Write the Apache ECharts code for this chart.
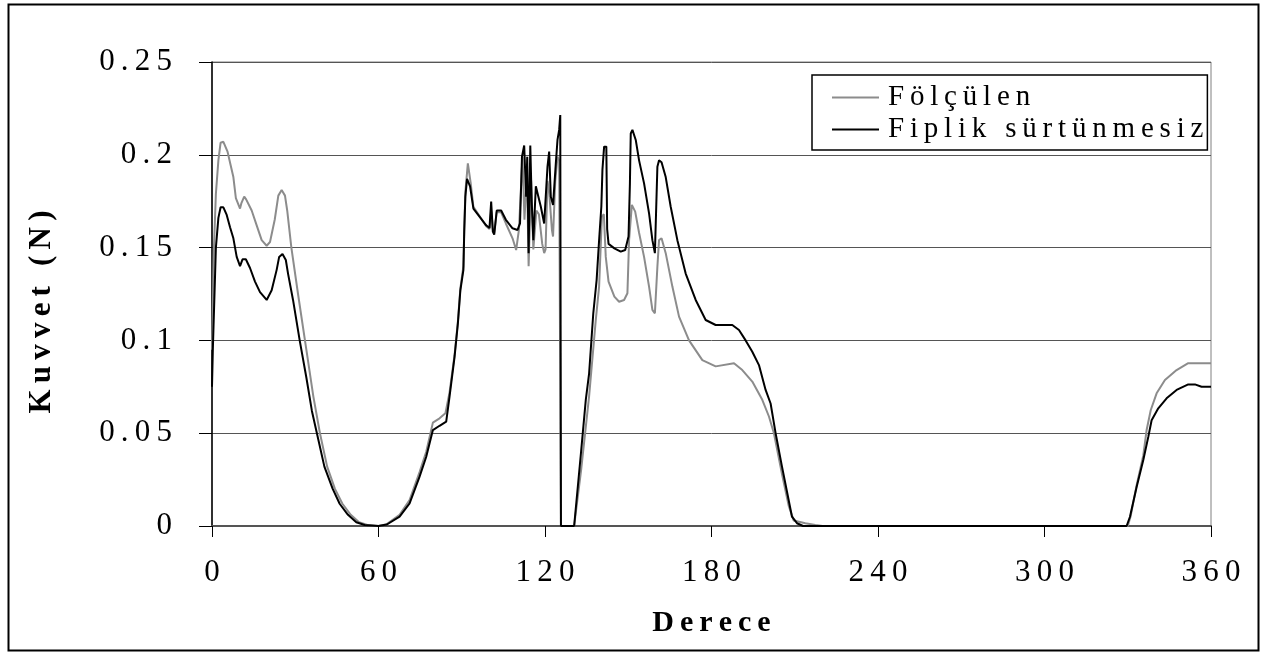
<!DOCTYPE html>
<html>
<head>
<meta charset="utf-8">
<script src="https://cdn.jsdelivr.net/npm/echarts@6/dist/echarts.min.js"></script>
<style>
html,body{margin:0;padding:0;background:#fff;}
#chart{width:1264px;height:653px;}
</style>
</head>
<body>
<div id="chart"></div>
<script>
// ---- data ----
const xTicks = [0, 60, 120, 180, 240, 300, 360];
const yTicks = [0, 0.05, 0.1, 0.15, 0.2, 0.25];
const seriesNames = ['Fölçülen', 'Fiplik sürtünmesiz'];

const olculenDeg = [0,0.7,1.4,2.3,3.1,4.1,5.6,6.7,7.7,8.6,10.1,10.6,11.6,12.3,14.3,16.1,17.9,19.7,20.9,22.6,23.9,25.1,26.3,27.1,28.6,31,34,36.5,38.9,41.5,44.3,47,50,53,56,60,63,67.6,71.2,74.8,77.2,79.6,82,84.1,85.6,87.4,88.6,89.5,90.6,90.9,91.3,92.2,92.7,93.2,94.2,96.4,98.8,100,100.6,101.2,101.7,102.6,104.2,105.9,108.3,109.6,110.6,111.9,112.6,113.5,114.1,115,115.8,116.9,117.8,119,119.7,120.2,120.9,121.5,122.5,122.9,123.7,124.5,125.1,125.7,125.75,130.5,133,135.9,138.3,139.5,140.5,141.2,141.9,142.9,145,146.7,148.5,149.7,150.3,151.3,152.5,153.9,155.7,157.5,158.7,159.6,160.5,161.1,162,163.5,165.9,168.3,171.9,176.7,181.5,188.1,191.1,194.7,198.3,200.7,202.5,205.4,207.8,209.6,213.8,217.4,220,330,331,333.2,335.6,336.8,338.3,340.4,343.4,347.6,351.8,360];
const olculenVal = [0.095,0.15,0.179,0.197,0.2065,0.207,0.2017,0.1945,0.188,0.1766,0.171,0.174,0.1775,0.176,0.170,0.162,0.154,0.151,0.153,0.165,0.178,0.181,0.178,0.170,0.150,0.125,0.095,0.07,0.05,0.032,0.02,0.012,0.006,0.002,0.0005,0,0.001,0.006,0.014,0.029,0.040,0.0557,0.058,0.0607,0.072,0.092,0.11,0.128,0.14,0.16,0.18,0.1954,0.195,0.185,0.172,0.167,0.1615,0.16,0.17,0.16,0.158,0.169,0.169,0.163,0.155,0.1487,0.1595,0.199,0.165,0.191,0.140,0.186,0.149,0.170,0.168,0.152,0.147,0.149,0.186,0.18,0.1595,0.156,0.186,0.199,0.197,0.198,0,0,0.03,0.07,0.111,0.129,0.1667,0.168,0.145,0.1317,0.1236,0.1208,0.1218,0.1254,0.154,0.173,0.1694,0.158,0.145,0.129,0.1164,0.1146,0.1397,0.154,0.155,0.147,0.129,0.1128,0.1,0.0894,0.086,0.0877,0.084,0.0778,0.068,0.059,0.05,0.028,0.011,0.003,0.0015,0.0005,0,0,0.005,0.022,0.038,0.0517,0.0625,0.0715,0.0787,0.084,0.0877,0.0877];

const iplikDeg = [0,0.3,1.4,2.3,3.1,4.1,5.3,6.5,7.7,8.9,10.1,11,12.2,13.7,15.5,17.3,19.7,21.5,23.3,24.2,25.4,26.6,27.4,29.2,31.6,34,36,37.8,40.5,43.5,46,49,52,55,60,63,67.6,71.2,74.8,77.2,79.6,82,84.4,85.6,87.4,88.6,89.5,90.6,90.9,91.3,91.9,92.4,93,94.2,96.4,98.8,100,100.6,101.2,101.7,102.6,104.2,105.9,108.3,110.1,111,111.7,112.5,113.2,113.6,114.1,114.7,115.2,115.8,116.7,117.2,118.5,119.7,120.1,120.9,121.5,122.1,122.9,123.9,124.5,125.1,125.5,125.7,125.75,130.5,133,134.7,135.9,137.4,138.6,139.5,140.3,140.7,141.3,142.1,142.4,142.9,145,147.3,148.9,150.1,150.6,150.9,151.5,152.7,153.9,155.7,157.5,158.7,159.6,160.5,161.1,162,163.5,165.3,167.7,170.7,174.3,177.9,181.5,187.5,189.9,192.3,194.7,197.1,199.5,201.3,203.1,205.4,207.8,209,210.8,213,329.6,330.8,333.2,335.6,337.4,338.6,341,344,347.6,351.8,354.2,356.6,360];
const iplikVal = [0.075,0.095,0.15,0.166,0.1717,0.1717,0.1676,0.161,0.155,0.145,0.14,0.1437,0.1437,0.139,0.1317,0.126,0.1218,0.127,0.138,0.145,0.1466,0.1433,0.136,0.1218,0.1,0.08,0.062,0.05,0.032,0.02,0.012,0.006,0.002,0.0005,0,0.0008,0.005,0.0122,0.0266,0.0373,0.0517,0.054,0.0562,0.0697,0.091,0.109,0.127,0.138,0.159,0.1774,0.187,0.188,0.183,0.171,0.1667,0.162,0.1606,0.1748,0.1586,0.157,0.17,0.17,0.165,0.1604,0.1595,0.163,0.199,0.205,0.1774,0.199,0.147,0.205,0.175,0.154,0.183,0.18,0.172,0.163,0.163,0.1936,0.2017,0.1774,0.173,0.1954,0.208,0.2134,0.2214,0.2214,0,0,0.04,0.068,0.0823,0.1146,0.1325,0.154,0.172,0.192,0.2044,0.2044,0.16,0.152,0.1496,0.1478,0.1487,0.156,0.1846,0.2115,0.2134,0.208,0.197,0.1846,0.1684,0.154,0.147,0.1936,0.197,0.196,0.188,0.172,0.154,0.136,0.1218,0.111,0.1083,0.1083,0.1056,0.1,0.0939,0.0867,0.0733,0.066,0.05,0.032,0.014,0.005,0.0015,0,0,0.005,0.021,0.0356,0.048,0.057,0.0634,0.0688,0.0733,0.0763,0.0763,0.075,0.075];

// ---- build ----
const SP = '\u2009';
const spaced = s => s.split('').join(SP);
const zip = (a, b) => a.map((d, i) => [d, b[i]]);
const FONT = '"Liberation Serif", "Times New Roman", serif';

const chart = echarts.init(document.getElementById('chart'), null, {renderer: 'canvas'});
chart.setOption({
  backgroundColor: '#ffffff',
  animation: false,
  grid: {left: 212, right: 53, top: 62, bottom: 127, show: true, borderColor: '#808080', borderWidth: 1},
  legend: {
    orient: 'vertical',
    left: 812, top: 75,
    padding: [8, 4, 6, 20],
    itemGap: 3,
    itemWidth: 47, itemHeight: 2,
    icon: 'rect',
    backgroundColor: '#ffffff',
    borderColor: '#000', borderWidth: 1.5,
    textStyle: {fontFamily: FONT, fontSize: 29, color: '#000', padding: [0, 0, 0, 4]},
    formatter: n => spaced(n),
    data: seriesNames
  },
  xAxis: {
    type: 'value', min: xTicks[0], max: xTicks[xTicks.length - 1], interval: 60,
    name: spaced('Derece'), nameLocation: 'middle', nameGap: 82,
    nameTextStyle: {fontFamily: FONT, fontSize: 30, fontWeight: 'bold', color: '#000'},
    axisLine: {lineStyle: {color: '#555', width: 2}},
    axisTick: {show: true, length: 11, lineStyle: {color: '#000', width: 1}},
    axisLabel: {margin: 31, fontFamily: FONT, fontSize: 31, color: '#000', formatter: v => spaced(String(v))},
    splitLine: {show: false}
  },
  yAxis: {
    type: 'value', min: yTicks[0], max: yTicks[yTicks.length - 1], interval: 0.05,
    name: spaced('Kuvvet (N)'), nameLocation: 'middle', nameGap: 155, nameRotate: 90,
    nameTextStyle: {fontFamily: FONT, fontSize: 31, fontWeight: 'bold', color: '#000', padding: [0, 36, 0, 0]},
    axisLine: {show: true, lineStyle: {color: '#000', width: 1.5}},
    axisTick: {show: true, length: 13, lineStyle: {color: '#000', width: 1}},
    axisLabel: {margin: 40, fontFamily: FONT, fontSize: 31, color: '#000', formatter: v => spaced(String(+(+v).toFixed(2)))},
    splitLine: {show: true, lineStyle: {color: '#555', width: 1}}
  },
  series: [
    {name: seriesNames[0], type: 'line', data: zip(olculenDeg, olculenVal), showSymbol: false, symbol: 'none',
     lineStyle: {color: '#8c8c8c', width: 2}, itemStyle: {color: '#8c8c8c'}},
    {name: seriesNames[1], type: 'line', data: zip(iplikDeg, iplikVal), showSymbol: false, symbol: 'none',
     lineStyle: {color: '#000', width: 2}, itemStyle: {color: '#000'}}
  ],
  graphic: [{
    type: 'rect', left: 6, top: 2, z: 100, silent: true,
    shape: {width: 1250, height: 646},
    style: {fill: 'none', stroke: '#000', lineWidth: 2}
  }]
});
</script>
</body>
</html>
